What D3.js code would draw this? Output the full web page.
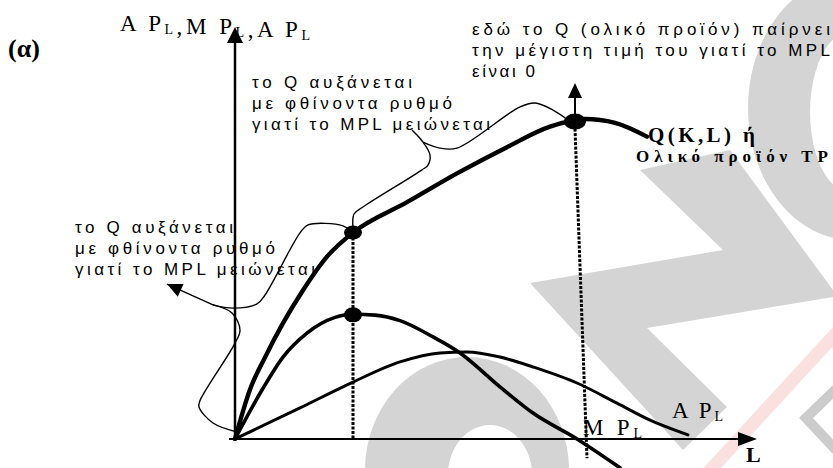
<!DOCTYPE html>
<meta charset="utf-8">
<style>
    html, body { margin: 0; background: #fff; }
    .curve { fill: none; stroke: #000; stroke-linecap: round; }
    .brace { fill: none; stroke: #000; stroke-width: 1.4px; }
    .dotted { stroke: #000; stroke-width: 3px; stroke-dasharray: 3,1.5; }
    .note { font-family: "Liberation Sans", Arial, sans-serif; font-size: 17px; fill: #000; }
    .serif { font-family: "Liberation Serif", "Times New Roman", serif; fill: #000; }
    .wm { fill: #d4d4d4; }
</style>
<body>
<script src="https://d3js.org/d3.v7.min.js"></script>
<script>
// curves (L on x, value on y)
var tpL  = [0, 0.3, 0.6, 0.96, 1.36, 1.84, 2.36, 3.44, 4.44, 5.44, 6.3, 7.0, 7.6, 8.24];
var tpQ  = [0, 1.55, 2.55, 3.62, 4.65, 5.7, 6.45, 7.4, 8.3, 9.12, 9.76, 10.0, 9.88, 9.45];

var mplL = [0, 0.54, 0.96, 1.44, 2.0, 2.36, 2.8, 3.3, 3.96, 4.5, 5.3, 5.96, 6.84, 7.7];
var mplV = [0, 1.53, 2.56, 3.31, 3.8, 3.9, 3.87, 3.7, 3.19, 2.69, 1.63, 0.81, 0, -0.9];

var aplL = [0, 1.3, 2.36, 3.3, 4.1, 4.64, 5.3, 5.96, 6.84, 7.64, 8.3, 9.06];
var aplV = [0, 0.97, 1.78, 2.41, 2.69, 2.72, 2.56, 2.25, 1.75, 1.12, 0.59, 0.13];

// marked points: TP inflection, TP max, MPL max
var dotL  = [2.36, 6.8, 2.36];
var dotV  = [6.45, 9.92, 3.88];
var dotRx = [9, 11, 9];
var dotRy = [7, 8, 7.5];

// dotted guides, top end and bottom end
var guideL0 = [2.36, 6.8],  guideV0 = [6.3, 9.7];
var guideL1 = [2.36, 7.04], guideV1 = [0, -0.6];

var leftNote = ["το Q αυξάνεται", "με φθίνοντα ρυθμό", "γιατί το MPL μειώνεται"];
var midNote  = ["το Q αυξάνεται", "με φθίνοντα ρυθμό", "γιατί το MPL μειώνεται"];
var topNote  = ["εδώ το Q (ολικό προϊόν) παίρνει", "την μέγιστη τιμή του γιατί το  MPL", "είναι 0"];

// braces, in data units: lower arm, upper arm, pointer
var braceLeft = [
    [[0.04, 0.22], [-0.44, 0.5], [-0.72, 1.0], [-0.7, 1.2], [-0.02, 2.94], [0.1, 3.4], [-0.06, 3.94], [-0.44, 4.19]],
    [[-0.44, 4.19], [-0.04, 4.09], [0.44, 4.22], [0.6, 4.5], [1.3, 6.44], [1.46, 6.69], [2.16, 6.66], [2.34, 6.47]]
];
var braceMid = [
    [[2.36, 6.59], [2.38, 7.03], [2.56, 7.25], [3.74, 8.41], [3.86, 8.56], [3.9, 8.88], [3.76, 9.28]],
    [[3.76, 9.28], [4.1, 9.09], [4.44, 9.09], [5.7, 10.38], [6.0, 10.5], [6.36, 10.28], [6.66, 9.97]],
    [[3.76, 9.28], [3.64, 9.5], [3.54, 9.66]]
];
var leftArrowTip = [-1.36, 4.84];

var width = 833, height = 468;

var x = d3.scaleLinear().domain([0, 10]).range([235, 735]);
var y = d3.scaleLinear().domain([0, 10]).range([439, 119]);

var svg = d3.select("body").append("svg")
    .attr("width", width)
    .attr("height", height);

// faint logo watermark behind the drawing
var wm = svg.append("g");
wm.append("path").attr("class", "wm").attr("fill-rule", "evenodd")
    .attr("d", "M852,-24 a104,132 0 1,0 0.1,0 Z M850,32 a40,80 0 1,0 0.1,0 Z");
wm.append("polygon").attr("class", "wm")
    .attr("points", "640,170 730,150 833,290 833,297 647,328 727,407 683,450 530,283 723,250");
wm.append("path").attr("class", "wm").attr("fill-rule", "evenodd")
    .attr("d", "M365,470 a102,113 0 1,1 204,0 Z M448,475 a42,50 0 1,1 84,0 Z");
wm.append("polyline").attr("points", "836,389 806,418 836,450")
    .attr("fill", "none").attr("stroke", "#cccccc").attr("stroke-width", 10);
wm.append("line").attr("x1", 850).attr("y1", 318).attr("x2", 705).attr("y2", 476)
    .attr("stroke", "#fbe0e0").attr("stroke-width", 13);

var g = svg.append("g");

// axes
g.append("line").attr("x1", x(0)).attr("x2", x(0)).attr("y1", y(0) + 2).attr("y2", 40)
    .attr("stroke", "#000").attr("stroke-width", 2.5);
g.append("polygon").attr("points", [[x(0), 27], [x(0) - 8, 43], [x(0) + 8, 43]].join(" "));
g.append("line").attr("x1", x(0) - 6).attr("x2", 740).attr("y1", y(0)).attr("y2", y(0))
    .attr("stroke", "#000").attr("stroke-width", 2);
g.append("polygon").attr("points", [[757, y(0)], [738, y(0) - 7], [738, y(0) + 7]].join(" "));

// dotted guides
g.selectAll(".dotted").data(guideL0).enter().append("line")
    .attr("class", "dotted")
    .attr("x1", function (d) { return x(d); })
    .attr("y1", function (d, i) { return y(guideV0[i]); })
    .attr("x2", function (d, i) { return x(guideL1[i]); })
    .attr("y2", function (d, i) { return y(guideV1[i]); });

var line = d3.line()
    .x(function (d) { return x(d[0]); })
    .y(function (d) { return y(d[1]); })
    .curve(d3.curveMonotoneX);

g.append("path").attr("class", "curve").attr("stroke-width", 3)
    .attr("d", line(d3.zip(aplL, aplV)));
g.append("path").attr("class", "curve").attr("stroke-width", 3.6)
    .attr("d", line(d3.zip(mplL, mplV)));
g.append("path").attr("class", "curve").attr("stroke-width", 4.4)
    .attr("d", line(d3.zip(tpL, tpQ)));

// braces
var bline = d3.line()
    .x(function (d) { return x(d[0]); })
    .y(function (d) { return y(d[1]); })
    .curve(d3.curveCatmullRom);

braceLeft.concat(braceMid).forEach(function (b) {
    g.append("path").attr("class", "brace").attr("d", bline(b));
});

// left brace arrow
var t0 = [x(braceLeft[1][0][0]), y(braceLeft[1][0][1])],
    t1 = [x(leftArrowTip[0]), y(leftArrowTip[1])];
var ang = Math.atan2(t1[1] - t0[1], t1[0] - t0[0]);
g.append("line").attr("x1", t0[0]).attr("y1", t0[1]).attr("x2", t1[0]).attr("y2", t1[1])
    .attr("stroke", "#000").attr("stroke-width", 1.4);
g.append("polygon").attr("points", [
    t1,
    [t1[0] - 15 * Math.cos(ang) + 7 * Math.sin(ang), t1[1] - 15 * Math.sin(ang) - 7 * Math.cos(ang)],
    [t1[0] - 15 * Math.cos(ang) - 7 * Math.sin(ang), t1[1] - 15 * Math.sin(ang) + 7 * Math.cos(ang)]
].join(" "));

// arrow up from TP max
g.append("line").attr("x1", x(6.8)).attr("x2", x(6.8)).attr("y1", y(9.9)).attr("y2", 96)
    .attr("stroke", "#000").attr("stroke-width", 2);
g.append("polygon").attr("points", [[x(6.8), 83], [x(6.8) - 7, 98], [x(6.8) + 7, 98]].join(" "));

// dots
g.selectAll(".dot").data(dotL).enter().append("ellipse")
    .attr("class", "dot")
    .attr("cx", function (d) { return x(d); })
    .attr("cy", function (d, i) { return y(dotV[i]); })
    .attr("rx", function (d, i) { return dotRx[i]; })
    .attr("ry", function (d, i) { return dotRy[i]; });

// notes
function note(lines, x0, y0, widths) {
    lines.forEach(function (s, i) {
        svg.append("text").attr("class", "note")
            .attr("x", x0).attr("y", y0 + i * 21)
            .attr("textLength", widths[i]).attr("lengthAdjust", "spacing")
            .text(s);
    });
}
note(leftNote, 75, 233, [158, 200, 240]);
note(midNote, 252, 88, [160, 200, 238]);
note(topNote, 472, 35, [358, 358, 63]);

// labels with subscripts
function subLabel(parts, x0, y0, size, w) {
    var t = svg.append("text").attr("class", "serif")
        .attr("x", x0).attr("y", y0).style("font-size", size + "px")
        .attr("textLength", w).attr("lengthAdjust", "spacing");
    parts.forEach(function (p) {
        if (p.sub) {
            t.append("tspan").attr("dy", 3).style("font-size", Math.round(size * 0.6) + "px").text(p.s);
            t.append("tspan").attr("dy", -3).text("");
        } else {
            t.append("tspan").text(p.s);
        }
    });
}
subLabel([{s: "A P"}, {s: "L", sub: 1}, {s: ",M P"}, {s: "L", sub: 1}, {s: ",A P"}, {s: "L", sub: 1}], 120, 31, 23, 190);
subLabel([{s: "M P"}, {s: "L", sub: 1}], 583, 435, 23, 59);
subLabel([{s: "A P"}, {s: "L", sub: 1}], 672, 418, 23, 51);

svg.append("text").attr("class", "serif").attr("x", 8).attr("y", 57)
    .style("font-size", "26px").style("font-weight", "bold").text("(α)");
svg.append("text").attr("class", "serif").attr("x", 746).attr("y", 462)
    .style("font-size", "22px").style("font-weight", "bold").text("L");
svg.append("text").attr("class", "serif").attr("x", 648).attr("y", 142)
    .style("font-size", "21px").style("font-weight", "bold")
    .attr("textLength", 107).attr("lengthAdjust", "spacing").text("Q(K,L) ή");
svg.append("text").attr("class", "serif").attr("x", 636).attr("y", 162)
    .style("font-size", "17px").style("font-weight", "bold")
    .attr("textLength", 192).attr("lengthAdjust", "spacing").text("Ολικό προϊόν TP");
</script>
</body>
